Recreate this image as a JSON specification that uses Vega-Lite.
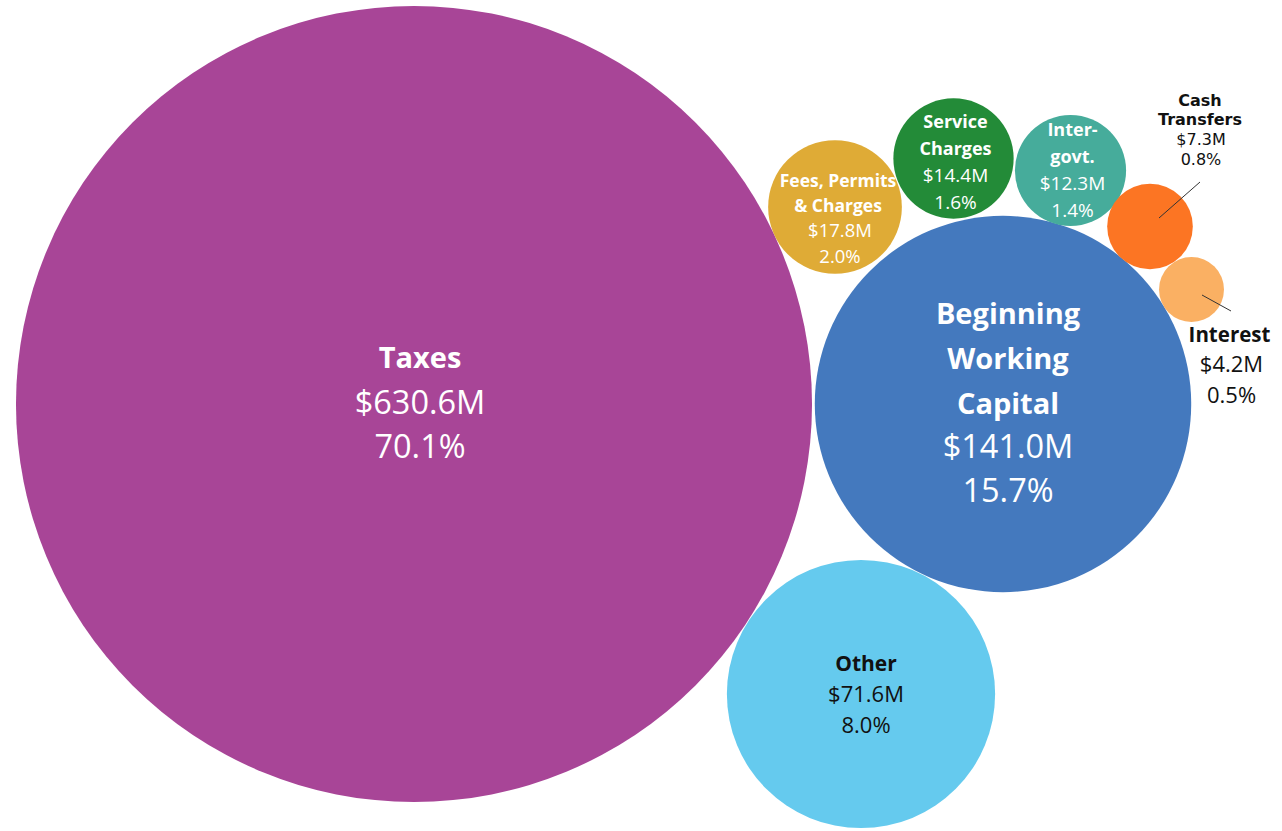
{
  "$schema": "https://vega.github.io/schema/vega-lite/v6.json",
  "width": 1282,
  "height": 831,
  "autosize": {"type": "fit", "contains": "padding"},
  "padding": 0,
  "background": "#ffffff",
  "config": {"view": {"stroke": null}},
  "data": {
    "values": [
      {"category": "Taxes", "amount": 630.6, "share": 70.1, "x": 414, "y": 404, "nameLines": "Taxes", "valueLines": "$630.6M\n70.1%"},
      {"category": "Beginning Working Capital", "amount": 141.0, "share": 15.7, "x": 1003, "y": 404, "nameLines": "Beginning\nWorking\nCapital", "valueLines": "$141.0M\n15.7%"},
      {"category": "Other", "amount": 71.6, "share": 8.0, "x": 861, "y": 694, "nameLines": "Other", "valueLines": "$71.6M\n8.0%"},
      {"category": "Fees, Permits & Charges", "amount": 17.8, "share": 2.0, "x": 835, "y": 207, "nameLines": "Fees, Permits\n& Charges", "valueLines": "$17.8M\n2.0%"},
      {"category": "Service Charges", "amount": 14.4, "share": 1.6, "x": 953.5, "y": 158.5, "nameLines": "Service\nCharges", "valueLines": "$14.4M\n1.6%"},
      {"category": "Inter-govt.", "amount": 12.3, "share": 1.4, "x": 1070.5, "y": 170.5, "nameLines": "Inter-\ngovt.", "valueLines": "$12.3M\n1.4%"},
      {"category": "Cash Transfers", "amount": 7.3, "share": 0.8, "x": 1150, "y": 226.5, "nameLines": "Cash\nTransfers", "valueLines": "$7.3M\n0.8%"},
      {"category": "Interest", "amount": 4.2, "share": 0.5, "x": 1191.5, "y": 289.5, "nameLines": "Interest", "valueLines": "$4.2M\n0.5%"}
    ]
  },
  "encoding": {
    "x": {"field": "x", "type": "quantitative", "axis": null, "scale": {"domain": [0, 1282], "nice": false, "zero": false}},
    "y": {"field": "y", "type": "quantitative", "axis": null, "scale": {"domain": [0, 831], "nice": false, "zero": false, "reverse": true}}
  },
  "layer": [
    {
      "mark": {"type": "point", "shape": "circle", "filled": true, "opacity": 1, "strokeWidth": 0},
      "encoding": {
        "size": {"field": "amount", "type": "quantitative", "legend": null, "scale": {"type": "linear", "domain": [0, 630.6], "range": [0, 633700], "zero": true}},
        "color": {"field": "category", "type": "nominal", "legend": null, "scale": {
          "domain": ["Taxes", "Beginning Working Capital", "Other", "Fees, Permits & Charges", "Service Charges", "Inter-govt.", "Cash Transfers", "Interest"],
          "range": ["#A84597", "#4479BE", "#65CAEE", "#DFAB36", "#238B38", "#46AC9B", "#FC7523", "#FAB063"]
        }}
      }
    },
    {
      "transform": [{"filter": "datum.category === 'Cash Transfers'"}],
      "mark": {"type": "point", "shape": "M0.18,-0.17L1.0,-0.89", "size": 10000, "filled": false, "stroke": "#333333", "strokeWidth": 1, "opacity": 1}
    },
    {
      "transform": [{"filter": "datum.category === 'Interest'"}],
      "mark": {"type": "point", "shape": "M0.21,0.11L0.79,0.43", "size": 10000, "filled": false, "stroke": "#333333", "strokeWidth": 1, "opacity": 1}
    },
    {
      "transform": [{"filter": "datum.category === 'Taxes'"}],
      "layer": [
        {"mark": {"type": "text", "font": "Open Sans", "fontWeight": "bold", "fontSize": 29, "lineBreak": "\n", "lineHeight": 44.5, "align": "center", "baseline": "middle", "dx": 6, "dy": -45, "color": "#ffffff"}, "encoding": {"text": {"field": "nameLines", "type": "nominal"}}},
        {"mark": {"type": "text", "font": "Open Sans", "fontWeight": "normal", "fontSize": 32.5, "lineBreak": "\n", "lineHeight": 43.5, "align": "center", "baseline": "middle", "dx": 6, "dy": 0, "color": "#ffffff"}, "encoding": {"text": {"field": "valueLines", "type": "nominal"}}}
      ]
    },
    {
      "transform": [{"filter": "datum.category === 'Beginning Working Capital'"}],
      "layer": [
        {"mark": {"type": "text", "font": "Open Sans", "fontWeight": "bold", "fontSize": 29, "lineBreak": "\n", "lineHeight": 45, "align": "center", "baseline": "middle", "dx": 5, "dy": -89, "color": "#ffffff"}, "encoding": {"text": {"field": "nameLines", "type": "nominal"}}},
        {"mark": {"type": "text", "font": "Open Sans", "fontWeight": "normal", "fontSize": 32.5, "lineBreak": "\n", "lineHeight": 44, "align": "center", "baseline": "middle", "dx": 5, "dy": 44, "color": "#ffffff"}, "encoding": {"text": {"field": "valueLines", "type": "nominal"}}}
      ]
    },
    {
      "transform": [{"filter": "datum.category === 'Other'"}],
      "layer": [
        {"mark": {"type": "text", "font": "Open Sans", "fontWeight": "bold", "fontSize": 21, "align": "center", "baseline": "middle", "dx": 5, "dy": -29, "color": "#111111"}, "encoding": {"text": {"field": "nameLines", "type": "nominal"}}},
        {"mark": {"type": "text", "font": "Open Sans", "fontWeight": "normal", "fontSize": 22, "lineBreak": "\n", "lineHeight": 31, "align": "center", "baseline": "middle", "dx": 5, "dy": 1, "color": "#111111"}, "encoding": {"text": {"field": "valueLines", "type": "nominal"}}}
      ]
    },
    {
      "transform": [{"filter": "datum.category === 'Fees, Permits & Charges'"}],
      "layer": [
        {"mark": {"type": "text", "font": "Open Sans", "fontWeight": "bold", "fontSize": 17.5, "lineBreak": "\n", "lineHeight": 25.3, "align": "center", "baseline": "middle", "dx": 3, "dy": -25, "color": "#ffffff"}, "encoding": {"text": {"field": "nameLines", "type": "nominal"}}},
        {"mark": {"type": "text", "font": "Open Sans", "fontWeight": "normal", "fontSize": 18.5, "lineBreak": "\n", "lineHeight": 26, "align": "center", "baseline": "middle", "dx": 5, "dy": 24, "color": "#ffffff"}, "encoding": {"text": {"field": "valueLines", "type": "nominal"}}}
      ]
    },
    {
      "transform": [{"filter": "datum.category === 'Service Charges'"}],
      "layer": [
        {"mark": {"type": "text", "font": "Open Sans", "fontWeight": "bold", "fontSize": 18, "lineBreak": "\n", "lineHeight": 27, "align": "center", "baseline": "middle", "dx": 2, "dy": -35.5, "color": "#ffffff"}, "encoding": {"text": {"field": "nameLines", "type": "nominal"}}},
        {"mark": {"type": "text", "font": "Open Sans", "fontWeight": "normal", "fontSize": 19, "lineBreak": "\n", "lineHeight": 27, "align": "center", "baseline": "middle", "dx": 2, "dy": 17.5, "color": "#ffffff"}, "encoding": {"text": {"field": "valueLines", "type": "nominal"}}}
      ]
    },
    {
      "transform": [{"filter": "datum.category === 'Inter-govt.'"}],
      "layer": [
        {"mark": {"type": "text", "font": "Open Sans", "fontWeight": "bold", "fontSize": 18, "lineBreak": "\n", "lineHeight": 26.7, "align": "center", "baseline": "middle", "dx": 2, "dy": -39.5, "color": "#ffffff"}, "encoding": {"text": {"field": "nameLines", "type": "nominal"}}},
        {"mark": {"type": "text", "font": "Open Sans", "fontWeight": "normal", "fontSize": 19, "lineBreak": "\n", "lineHeight": 26.5, "align": "center", "baseline": "middle", "dx": 2, "dy": 13.5, "color": "#ffffff"}, "encoding": {"text": {"field": "valueLines", "type": "nominal"}}}
      ]
    },
    {
      "transform": [{"filter": "datum.category === 'Cash Transfers'"}],
      "layer": [
        {"mark": {"type": "text", "font": "DejaVu Sans", "fontWeight": "bold", "fontSize": 16, "lineBreak": "\n", "lineHeight": 19.5, "align": "center", "baseline": "middle", "dx": 50, "dy": -126, "color": "#111111"}, "encoding": {"text": {"field": "nameLines", "type": "nominal"}}},
        {"mark": {"type": "text", "font": "DejaVu Sans", "fontWeight": "normal", "fontSize": 16, "lineBreak": "\n", "lineHeight": 19.5, "align": "center", "baseline": "middle", "dx": 51, "dy": -86.5, "color": "#111111"}, "encoding": {"text": {"field": "valueLines", "type": "nominal"}}}
      ]
    },
    {
      "transform": [{"filter": "datum.category === 'Interest'"}],
      "layer": [
        {"mark": {"type": "text", "font": "Open Sans", "fontWeight": "bold", "fontSize": 20.5, "align": "center", "baseline": "middle", "dx": 38, "dy": 46.5, "color": "#111111"}, "encoding": {"text": {"field": "nameLines", "type": "nominal"}}},
        {"mark": {"type": "text", "font": "Open Sans", "fontWeight": "normal", "fontSize": 22, "lineBreak": "\n", "lineHeight": 30.5, "align": "center", "baseline": "middle", "dx": 40, "dy": 75.5, "color": "#111111"}, "encoding": {"text": {"field": "valueLines", "type": "nominal"}}}
      ]
    }
  ]
}
